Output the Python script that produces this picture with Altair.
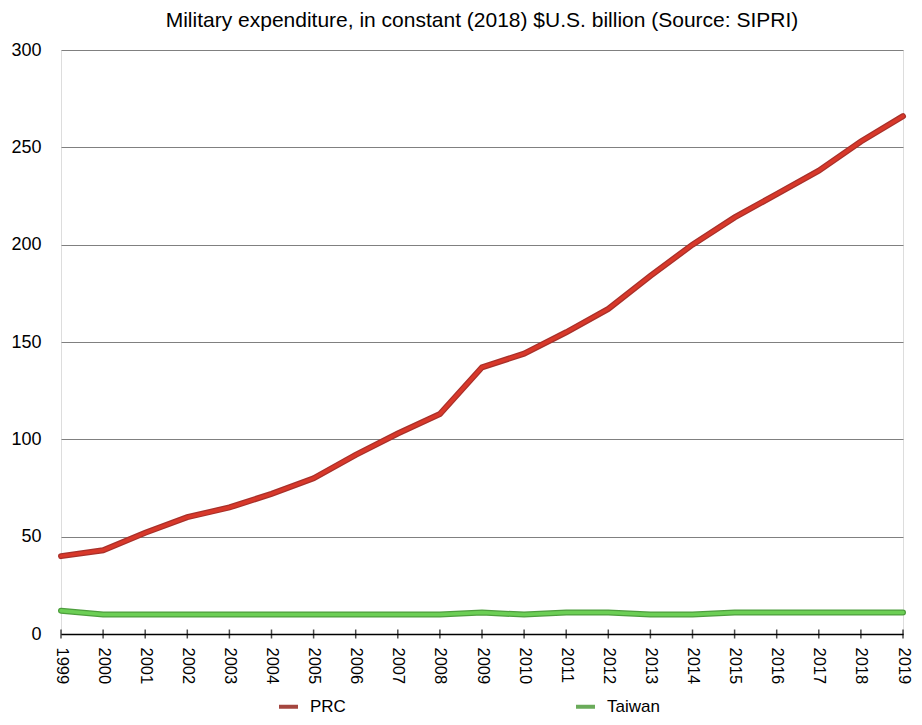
import altair as alt
import pandas as pd

years = [str(y) for y in range(1999, 2020)]
prc = [40, 43, 52, 60, 65, 72, 80, 92, 103, 113, 137, 144, 155, 167, 184, 200, 214, 226, 238, 253, 266]
taiwan = [12, 10, 10, 10, 10, 10, 10, 10, 10, 10, 11, 10, 11, 11, 10, 10, 11, 11, 11, 11, 11]
series = ["PRC", "Taiwan"]
line_colors = ["#d8382a", "#6ccf55"]
edge_colors = ["#a8302a", "#4e9e3e"]
legend_colors = ["#a4463f", "#6aab5a"]

rows = []
for i, y in enumerate(years):
    rows.append({"Year": y, "Series": "PRC", "Value": prc[i]})
    rows.append({"Year": y, "Series": "Taiwan", "Value": taiwan[i]})
df = pd.DataFrame(rows)
years_df = pd.DataFrame({"Year": years})

font = "Liberation Sans"

x = alt.X("Year:O", title=None, scale=alt.Scale(type="point", padding=0),
          axis=alt.Axis(labelAngle=90, labelFontSize=16.5, labelColor="#000", domainColor="#000",
                        ticks=False, domainWidth=1.5,
                        labelPadding=13, labelFont=font, grid=False, labelBaseline="middle",
                        labelAlign="left"))
y = alt.Y("Value:Q", title=None, scale=alt.Scale(domain=[0, 300]),
          axis=alt.Axis(values=[0, 50, 100, 150, 200, 250, 300], labelFontSize=18, labelColor="#000",
                        labelFont=font, domain=False, ticks=False, labelPadding=20,
                        grid=True, gridColor="#808080", gridWidth=1))

ticks = alt.Chart(years_df).mark_tick(orient="vertical", size=9, thickness=1.5, color="#000").encode(
    x=x, y=alt.datum(0),
)

edge = alt.Chart(df).mark_line(strokeWidth=6, strokeCap="round").encode(
    x=x, y=y,
    color=alt.Color("Series:N", scale=alt.Scale(domain=series, range=edge_colors), legend=None),
    detail="Series:N",
)

inner = alt.Chart(df).mark_line(strokeWidth=3.5, strokeCap="round").encode(
    x=x, y=y,
    color=alt.Color("Series:N", scale=alt.Scale(domain=series, range=line_colors), legend=None),
)

legend_layer = alt.Chart(df).mark_line(opacity=0).encode(
    x=x, y=y,
    stroke=alt.Stroke("Series:N", scale=alt.Scale(domain=series, range=legend_colors),
                      legend=alt.Legend(title=None, orient="none", direction="horizontal",
                                        legendX=216, legendY=645, columnPadding=222,
                                        symbolType="stroke", symbolStrokeWidth=4, symbolSize=361,
                                        symbolOpacity=1,
                                        labelFontSize=17, labelFont=font, labelColor="#000",
                                        labelOffset=10)),
)

chart = alt.layer(edge, inner, ticks, legend_layer).resolve_scale(color="independent").properties(
    width=842, height=584,
    autosize=alt.AutoSizeParams(type="none"),
    padding={"left": 53, "top": 42, "right": 11, "bottom": 82},
    title=alt.Title("Military expenditure, in constant (2018) $U.S. billion (Source: SIPRI)",
                    fontSize=21, font=font, fontWeight="normal", color="#000", offset=10),
).configure_view(stroke=None).configure(background="white")

chart.save("out.html", embed_options={"renderer": "svg", "actions": False})
